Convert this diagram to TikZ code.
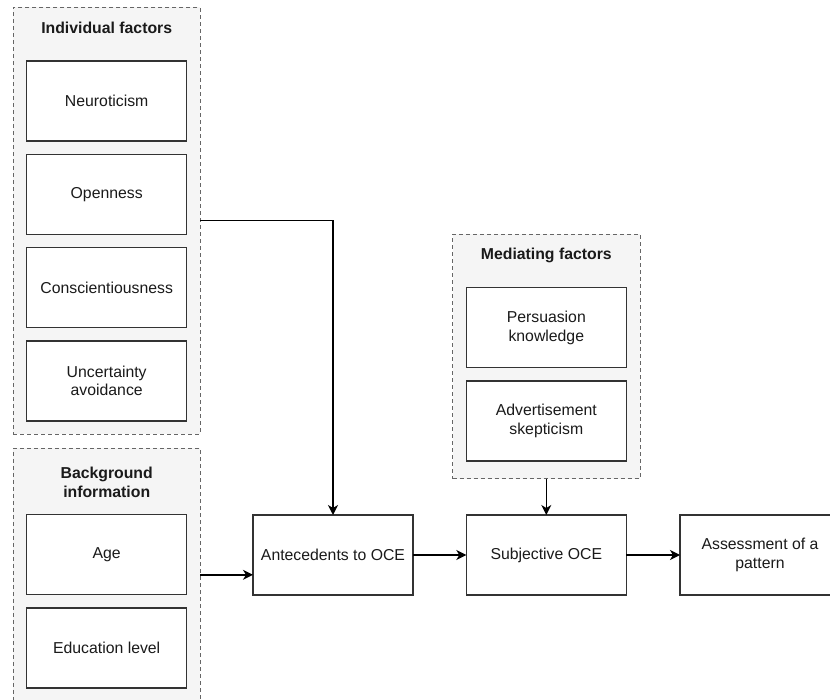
\documentclass[tikz,border=0pt]{standalone}
\usepackage{fontspec}
\setmainfont{Liberation Sans}
\usetikzlibrary{arrows.meta}
\definecolor{grpfill}{HTML}{F5F5F5}
\definecolor{grpline}{HTML}{666666}
\definecolor{boxline}{HTML}{333333}
\definecolor{txt}{HTML}{1A1A1A}
\tikzset{
  grp/.style={draw=grpline, fill=grpfill, line width=0.9pt, dash pattern=on 4pt off 3pt,
    inner sep=0pt, outer sep=0pt},
  grptitle/.style={font=\fontsize{15.8}{19}\selectfont\bfseries, text=txt, align=center, inner sep=0pt},
  box/.style={draw=boxline, fill=white, line width=1.3pt, minimum width=160pt, minimum height=80pt,
    inner sep=0pt, outer sep=0pt, align=center, text=txt, font=\fontsize{15.8}{18.7}\selectfont},
  arr/.style={-{Stealth[length=10pt,width=10pt,inset=3pt]}, line width=1.4pt, black}
}
\begin{document}
\begin{tikzpicture}[x=1pt,y=-1pt]
\useasboundingbox (0,0) rectangle (830,700);
\clip (0,0) rectangle (830,700);

% groups
\node[grp, minimum width=186.7pt, minimum height=426.7pt] (indiv) at (106.7,220.7) {};
\node[grp, minimum width=186.7pt, minimum height=253pt] (bg) at (106.7,574.8) {};
\node[grp, minimum width=187.3pt, minimum height=244.4pt] (med) at (546.3,356.5) {};

\node[grptitle] (indivT) at (106.7,28) {Individual factors};
\node[grptitle] (bgT) at (106.7,482.5) {Background\\information};
\node[grptitle] (medT) at (546.3,255) {Mediating factors};

% individual factors
\node[box] (neuro) at (106.7,101) {Neuroticism};
\node[box] (open) at (106.7,194.3) {Openness};
\node[box] (consc) at (106.7,287.7) {Conscientiousness};
\node[box] (uncert) at (106.7,381) {Uncertainty\\avoidance};

% background information
\node[box] (age) at (106.7,554.7) {Age};
\node[box] (edu) at (106.7,648) {Education level};

% mediating factors
\node[box] (pers) at (546.3,327.7) {Persuasion\\knowledge};
\node[box] (adv) at (546.3,421) {Advertisement\\skepticism};

% main chain
\node[box] (ante) at (333,555) {Antecedents to OCE};
\node[box] (subj) at (546.3,555) {Subjective OCE};
\node[box] (assess) at (760,555) {Assessment of a\\pattern};

% connectors
\draw[arr] (indiv.east) -| (ante.north);
\draw[arr] (bg.east) -- (bg.east -| ante.west);
\draw[arr] (ante) -- (subj);
\draw[arr] (subj) -- (assess);
\draw[arr] (med.south) -- (subj.north);
\end{tikzpicture}
\end{document}
